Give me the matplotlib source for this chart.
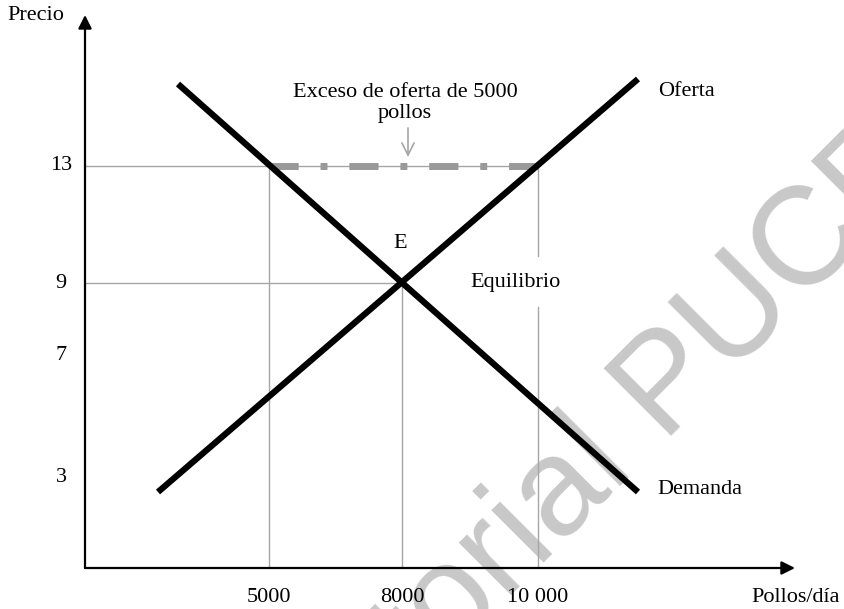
import matplotlib
matplotlib.use("Agg")
import matplotlib.pyplot as plt

# ── Datos del diagrama (esquema, no está a escala) ──
# 1 unidad del esquema = 10 px; origen en la esquina de los ejes
CANT_LABELS = ["5000", "8000", "10 000"]
CANT_POS    = [18.4, 31.7, 45.3]
PREC_LABELS = ["13", "9", "7", "3"]
PREC_POS    = [40.2, 28.5, 21.3, 9.1]

DEMANDA_Q = [9.3, 55.3]
DEMANDA_P = [48.4, 7.6]
OFERTA_Q  = [7.3, 55.3]
OFERTA_P  = [7.6, 48.9]

GRIS  = "#a6a6a6"
GRIS2 = "#999999"
SERIF = "Liberation Serif"
FS    = 16

fig = plt.figure(figsize=(8.45, 6.09), dpi=100)
ax = fig.add_axes([85/845, 41/609, 760/845, 568/609])
ax.set_xlim(0, 76)
ax.set_ylim(0, 56.8)
ax.axis("off")

# marca de agua (debajo de todo)
ax.text(0.3325, -0.3547, "Editorial PUCP", transform=fig.transFigure,
        fontsize=100, family="Liberation Sans", color="#c8c8c8", rotation=45,
        ha="left", va="baseline", rotation_mode="anchor", zorder=0, clip_on=False)

# ejes con flecha
ax.annotate("", xy=(71.0, 0), xytext=(0, 0),
            arrowprops=dict(arrowstyle="-|>", lw=1.6, color="black",
                            mutation_scale=20, shrinkA=0, shrinkB=0), zorder=5)
ax.annotate("", xy=(0, 55.3), xytext=(0, 0),
            arrowprops=dict(arrowstyle="-|>", lw=1.6, color="black",
                            mutation_scale=20, shrinkA=0, shrinkB=0), zorder=5)

q5, q8, q10 = CANT_POS
p13, p9 = PREC_POS[0], PREC_POS[1]

# líneas guía
ax.plot([0, q10], [p13, p13], color=GRIS, lw=1, zorder=2)
ax.plot([0, q8], [p9, p9], color=GRIS, lw=1, zorder=2)
ax.plot([q5, q5], [0, p13], color=GRIS, lw=1, zorder=2)
ax.plot([q8, q8], [0, p9], color=GRIS, lw=1, zorder=2)
ax.plot([q10, q10], [0, 26.1], color=GRIS, lw=1, zorder=2)
ax.plot([q10, q10], [31.2, p13], color=GRIS, lw=1, zorder=2)

# exceso de oferta (raya-punto gruesa)
exc, = ax.plot([q5, q10], [p13, p13], color=GRIS2, lw=5, zorder=3,
               solid_capstyle="butt", dash_capstyle="butt")
exc.set_dashes((4.2, 3.15, 1.0, 3.15))

# curvas
ax.plot(DEMANDA_Q, DEMANDA_P, color="black", lw=4.5, zorder=4,
        solid_capstyle="butt")
ax.plot(OFERTA_Q, OFERTA_P, color="black", lw=4.5, zorder=4,
        solid_capstyle="butt")

# etiquetas de los ejes
for lab, pos in zip(CANT_LABELS, CANT_POS):
    ax.text(pos, -2.9, lab, ha="center", va="center", fontsize=FS, family=SERIF)
for lab, pos in zip(PREC_LABELS, PREC_POS):
    ax.text(-2.4, pos, lab, ha="center", va="center", fontsize=FS, family=SERIF)

ax.text(-7.8, 55.3, "Precio", ha="left", va="center", fontsize=FS, family=SERIF)
ax.text(75.5, -2.9, "Pollos/día", ha="right", va="center", fontsize=FS, family=SERIF)
ax.text(57.3, 47.6, "Oferta", ha="left", va="center", fontsize=FS, family=SERIF)
ax.text(57.2, 7.9, "Demanda", ha="left", va="center", fontsize=FS, family=SERIF)
ax.text(31.5, 32.5, "E", ha="center", va="center", fontsize=FS, family=SERIF)
ax.text(43.1, 28.6, "Equilibrio", ha="center", va="center", fontsize=FS, family=SERIF)
ax.text(32.0, 46.5, "Exceso de oferta de 5000\npollos", ha="center", va="center",
        fontsize=FS, family=SERIF, linespacing=1.2, multialignment="center")

ax.annotate("", xy=(32.3, p13 + 0.9), xytext=(32.3, 44.0),
            arrowprops=dict(arrowstyle="->", lw=1.2, color=GRIS,
                            mutation_scale=22, shrinkA=0, shrinkB=0))

fig.savefig("out.png", dpi=100)
